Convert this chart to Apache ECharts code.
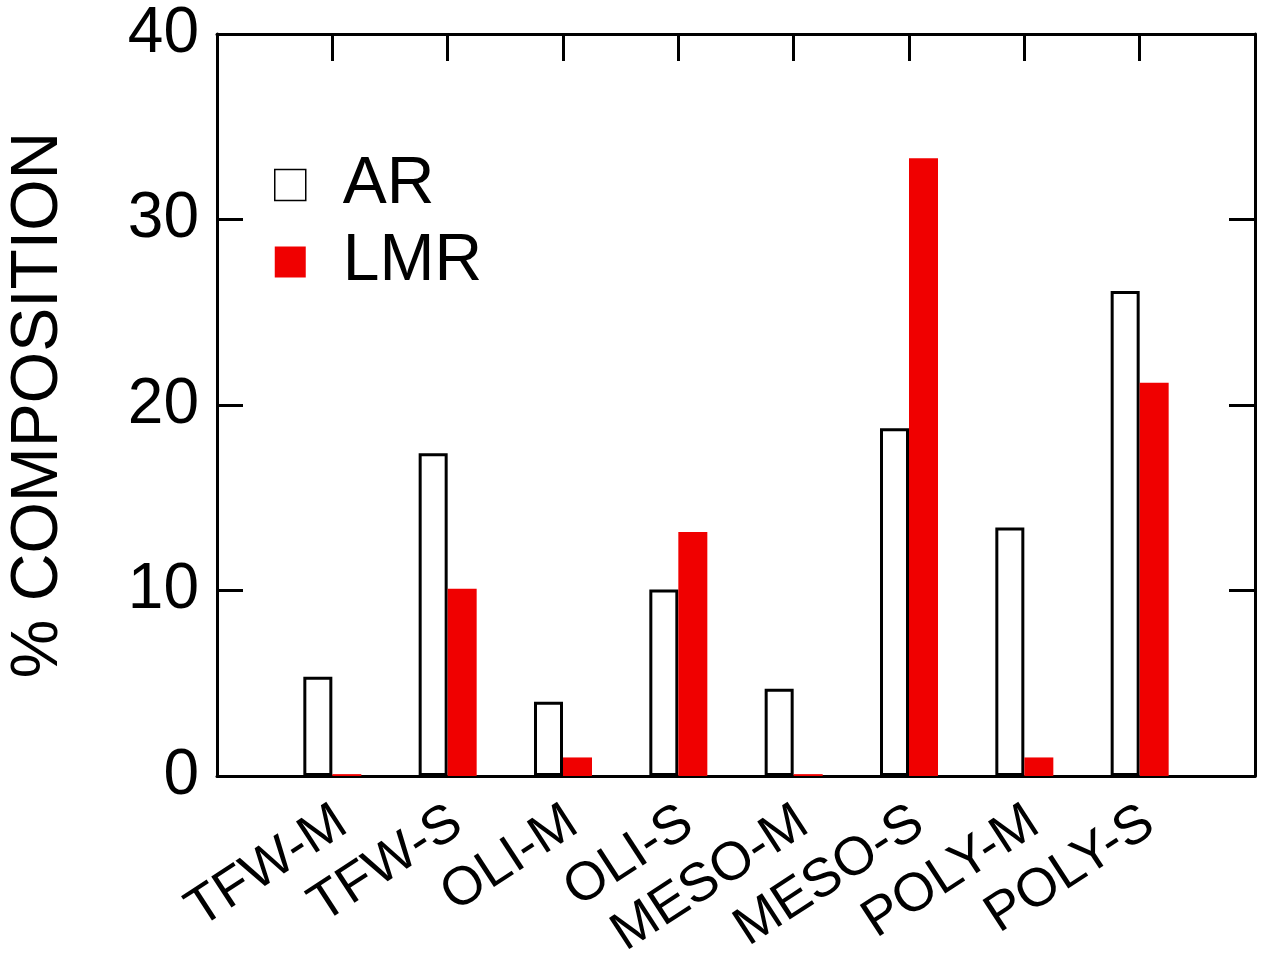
<!DOCTYPE html>
<html>
<head>
<meta charset="utf-8">
<script src="https://cdn.jsdelivr.net/npm/echarts@6/dist/echarts.min.js"></script>
<style>
html,body{margin:0;padding:0;background:#fff;}
#chart{width:1264px;height:955px;}
</style>
</head>
<body>
<div id="chart"></div>
<script>
// Data
var categories = ['', 'TFW-M', 'TFW-S', 'OLI-M', 'OLI-S', 'MESO-M', 'MESO-S', 'POLY-M', 'POLY-S', ''];
var arValues  = [null, 5.35, 17.4, 4.0, 10.05, 4.7, 18.75, 13.4, 26.15, null];
var lmrValues = [null, 0.1, 10.1, 1.0, 13.15, 0.1, 33.3, 1.0, 21.2, null];
var yTicks = [0, 10, 20, 30, 40];

var FONT = '"Liberation Sans", Arial, sans-serif';
var RED = '#f00000';

var chart = echarts.init(document.getElementById('chart'), null, {renderer: 'canvas'});
chart.setOption({
  animation: false,
  backgroundColor: '#fff',
  grid: {left: 217, right: 9, top: 34, bottom: 179, containLabel: false, outerBoundsMode: 'none'},
  legend: {
    orient: 'vertical',
    left: 269,
    top: 147,
    itemWidth: 31,
    itemHeight: 31,
    itemGap: 11,
    icon: 'rect',
    textStyle: {fontFamily: FONT, fontSize: 66, color: '#000', padding: [0, 0, 0, 32]},
    data: [
      {name: 'AR', itemStyle: {color: '#fff', borderColor: '#000', borderWidth: 1.5}},
      {name: 'LMR', itemStyle: {color: RED, borderWidth: 0}}
    ]
  },
  xAxis: [
    {
      type: 'category',
      data: categories,
      boundaryGap: false,
      position: 'bottom',
      axisLine: {onZero: false, lineStyle: {color: '#000', width: 3}},
      axisTick: {show: false},
      axisLabel: {
        interval: 0,
        rotate: 33,
        margin: 27,
        verticalAlign: 'top',
        lineHeight: 36,
        fontFamily: FONT,
        fontSize: 54,
        color: '#000'
      },
      splitLine: {show: false}
    },
    {
      type: 'category',
      data: categories,
      boundaryGap: false,
      position: 'top',
      axisLine: {onZero: false, lineStyle: {color: '#000', width: 3}},
      axisTick: {show: true, inside: true, length: 27, lineStyle: {color: '#000', width: 3}, interval: 0},
      axisLabel: {show: false},
      splitLine: {show: false}
    }
  ],
  yAxis: [
    {
      type: 'value',
      min: yTicks[0],
      max: yTicks[yTicks.length - 1],
      interval: 10,
      position: 'left',
      name: '% COMPOSITION',
      nameLocation: 'middle',
      nameGap: 145,
      nameTextStyle: {fontFamily: FONT, fontSize: 66, color: '#000'},
      axisLine: {show: true, onZero: false, lineStyle: {color: '#000', width: 3}},
      axisTick: {show: true, inside: true, length: 26, lineStyle: {color: '#000', width: 3}},
      axisLabel: {fontFamily: FONT, fontSize: 64, color: '#000', margin: 18},
      splitLine: {show: false}
    },
    {
      type: 'value',
      min: yTicks[0],
      max: yTicks[yTicks.length - 1],
      interval: 10,
      position: 'right',
      axisLine: {show: true, onZero: false, lineStyle: {color: '#000', width: 3}},
      axisTick: {show: true, inside: true, length: 26, lineStyle: {color: '#000', width: 3}},
      axisLabel: {show: false},
      splitLine: {show: false}
    }
  ],
  series: [
    {
      name: 'AR',
      type: 'bar',
      data: arValues,
      barWidth: 29,
      barGap: '0%',
      itemStyle: {color: '#fff', borderColor: '#000', borderWidth: 3}
    },
    {
      name: 'LMR',
      type: 'bar',
      data: lmrValues,
      barWidth: 29,
      barGap: '0%',
      itemStyle: {color: RED}
    }
  ]
});
</script>
</body>
</html>
